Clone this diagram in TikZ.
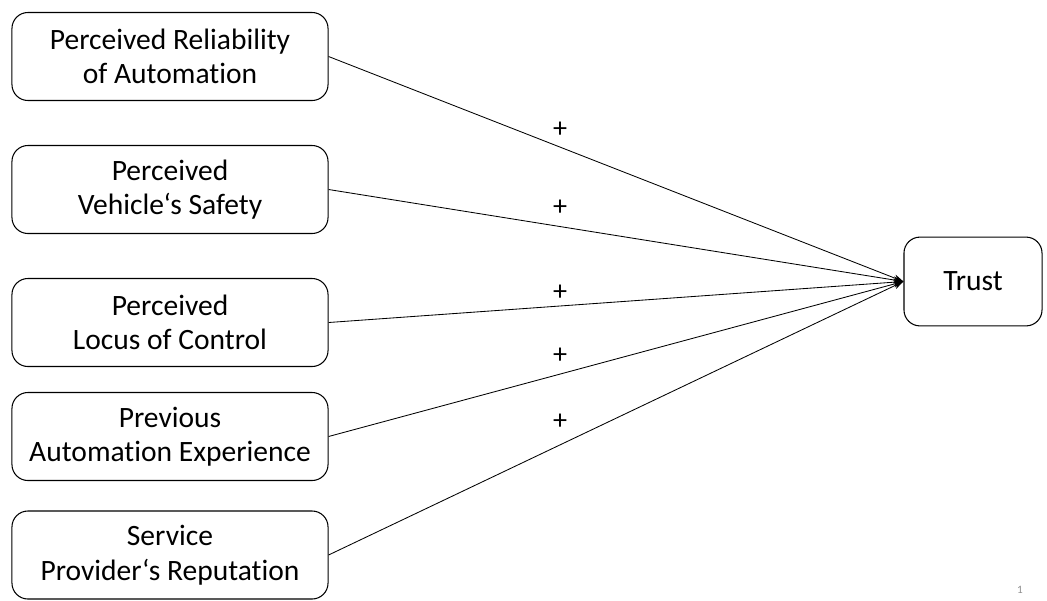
\documentclass[tikz,border=0pt]{standalone}
\usepackage{fontspec}
\setmainfont[Ligatures=NoCommon]{Carlito}
\usetikzlibrary{arrows.meta}

\begin{document}
\begin{tikzpicture}[x=0.025cm, y=-0.025cm,
    factor/.style={draw=black, line width=0.75pt, rounded corners=0.4cm, align=center,
      minimum width=7.9cm, minimum height=2.2cm, inner sep=0pt,
      font=\fontsize{21}{24.5}\selectfont},
    target/.style={factor, minimum width=3.45cm, minimum height=2.22cm},
    link/.style={line width=0.6pt, -{Stealth[length=7pt,width=5pt]}},
    sign/.style={font=\fontsize{20}{20}\selectfont}]
          \useasboundingbox (0,0) rectangle (1047,600);
          \node[factor] (rel) at (170,56.5) {Perceived Reliability\\of Automation};
          \node[factor] (saf) at (170,189.5) {Perceived\\Vehicle‘s Safety};
          \node[factor] (loc) at (170,322.5) {Perceived\\Locus of Control};
          \node[factor] (exp) at (170,436.5) {Previous\\Automation Experience};
          \node[factor] (rep) at (170,555) {Service\\Provider‘s Reputation};
          \node[target] (trust) at (973,281.5) {Trust};
          \foreach \src in {rel,saf,loc,exp,rep}
            \draw[link] (\src.east) -- (trust.west);
          \node[sign] (p1) at (560,130) {+};
          \node[sign] (p2) at (560,208) {+};
          \node[sign] (p3) at (560,293) {+};
          \node[sign] (p4) at (560,356) {+};
          \node[sign] (p5) at (560,422) {+};
          \node[text=black!45, font=\fontsize{8}{8}\selectfont] (num) at (1020,590) {1};
        \end{tikzpicture}
\end{document}
